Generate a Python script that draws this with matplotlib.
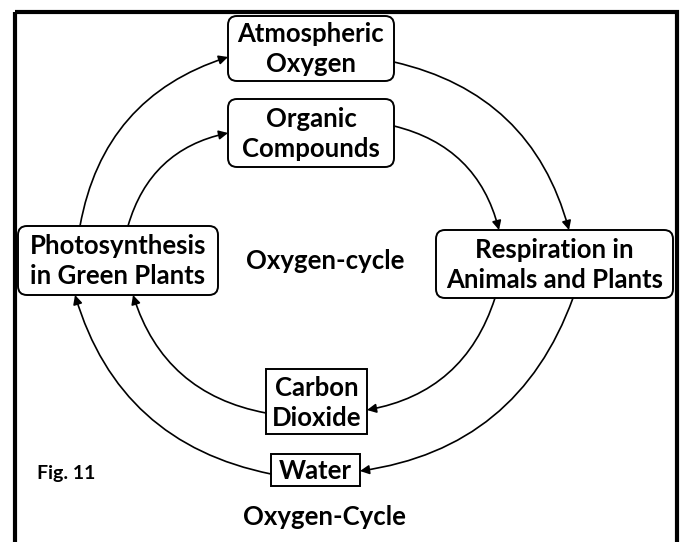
import matplotlib.pyplot as plt
from matplotlib.patches import FancyBboxPatch, FancyArrowPatch, Rectangle

plt.rcParams['font.family'] = ['Lato', 'DejaVu Sans']

# nodes of the cycle
labels = ["Atmospheric\nOxygen", "Organic\nCompounds", "Photosynthesis\nin Green Plants",
          "Respiration in\nAnimals and Plants", "Carbon\nDioxide", "Water"]
rounded = [True, True, True, True, False, False]

# box layout in pixels (x0, y0, x1, y1)
boxes = [(228, 16, 394, 81), (228, 99, 394, 167), (18, 226, 218, 295),
         (436, 230, 673, 298), (266, 369, 367, 434), (271, 454, 360, 486)]

# arrows: start point, end point, curvature
arrows = [((80, 226), (228, 57), -0.3),
          ((128, 226), (228, 133), -0.3),
          ((394, 62), (569, 230), -0.3),
          ((394, 126), (499, 230), -0.3),
          ((495, 298), (367, 410), -0.3),
          ((573, 298), (360, 471), -0.3),
          ((266, 413), (133, 295), -0.3),
          ((271, 474), (75, 295), -0.3)]

fig = plt.figure(figsize=(6.81, 5.42), dpi=100)
ax = fig.add_axes([0, 0, 1, 1])
ax.set_xlim(0, 681)
ax.set_ylim(542, 0)
ax.axis('off')

# outer frame
ax.add_patch(Rectangle((14.5, 11.5), 662.5, 545, fill=False, lw=3, ec='black'))

for lab, rnd, (x0, y0, x1, y1) in zip(labels, rounded, boxes):
    style = "round,pad=0,rounding_size=9" if rnd else "square,pad=0"
    ax.add_patch(FancyBboxPatch((x0, y0), x1 - x0, y1 - y0, boxstyle=style,
                                fc='white', ec='black', lw=1.4))
    ax.text((x0 + x1) / 2, (y0 + y1) / 2 + 1, lab, ha='center', va='center',
            fontsize=18.5, fontweight='bold', linespacing=1.3)

for (p0, p1, rad) in arrows:
    ax.add_patch(FancyArrowPatch(p0, p1, connectionstyle=f"arc3,rad={rad}",
                                 arrowstyle="-|>,head_length=0.6,head_width=0.3",
                                 mutation_scale=9, lw=1.2, color='black',
                                 shrinkA=0, shrinkB=0))

ax.text(325, 261, "Oxygen-cycle", ha='center', va='center', fontsize=18.5, fontweight='bold')
ax.text(37, 474, "Fig. 11", ha='left', va='center', fontsize=14, fontweight='bold')
ax.text(324, 517, "Oxygen-Cycle", ha='center', va='center', fontsize=18.5, fontweight='bold')

fig.savefig("out.png", dpi=100)
